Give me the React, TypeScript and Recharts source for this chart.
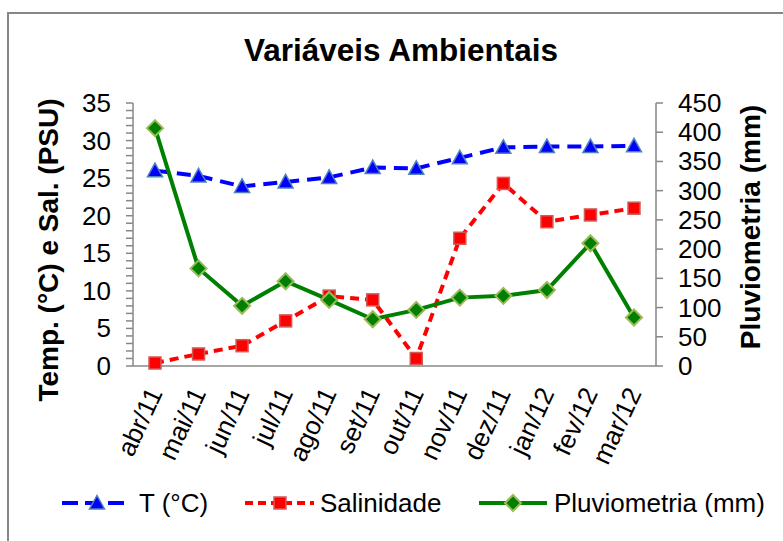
import { ComposedChart, Legend, Line, XAxis, YAxis } from "recharts";

const months = ["abr/11", "mai/11", "jun/11", "jul/11", "ago/11", "set/11", "out/11", "nov/11", "dez/11", "jan/12", "fev/12", "mar/12"];
const temperature = [26.0, 25.3, 23.9, 24.5, 25.1, 26.4, 26.3, 27.7, 29.1, 29.2, 29.2, 29.3];
const salinity = [0.4, 1.6, 2.7, 6.0, 9.3, 8.8, 1.0, 17.0, 24.3, 19.2, 20.1, 21.0];
const rainfall = [407, 167, 103, 145, 113, 80, 96, 117, 120, 130, 210, 83];

const leftTicks = [0, 1, 2, 3, 4, 5, 6, 7, 8, 9, 10, 11, 12, 13, 14, 15, 16, 17, 18, 19, 20, 21, 22, 23, 24, 25, 26, 27, 28, 29, 30, 31, 32, 33, 34, 35];
const rightTicks = [0, 50, 100, 150, 200, 250, 300, 350, 400, 450];

const data = months.map((month, i) => ({ month, temp: temperature[i], sal: salinity[i], rain: rainfall[i] }));

const FONT = '"Liberation Sans", Arial, sans-serif';
const GRID = "#878787";

function Triangle({ cx, cy }: any) {
  if (cx == null || cy == null) return null;
  return <polygon points={`${cx},${cy - 7.5} ${cx + 7.5},${cy + 6} ${cx - 7.5},${cy + 6}`} fill="#0000ff" stroke="#4f81bd" strokeWidth={1.5} />;
}

function Square({ cx, cy }: any) {
  if (cx == null || cy == null) return null;
  return <rect x={cx - 6} y={cy - 6} width={12} height={12} fill="#ff0000" stroke="#d25b58" strokeWidth={1.5} />;
}

function Diamond({ cx, cy }: any) {
  if (cx == null || cy == null) return null;
  return <polygon points={`${cx},${cy - 8} ${cx + 8},${cy} ${cx},${cy + 8} ${cx - 8},${cy}`} fill="#008000" stroke="#9bbb59" strokeWidth={2} />;
}

function LeftTick({ x, y, payload }: any) {
  if (payload.value % 5 !== 0) return null;
  return (
    <text x={x} y={y + 9} textAnchor="end" fontSize={26} fontFamily={FONT} fill="#000">
      {payload.value}
    </text>
  );
}

function RightTick({ x, y, payload }: any) {
  return (
    <text x={x} y={y + 9} textAnchor="start" fontSize={26} fontFamily={FONT} fill="#000">
      {payload.value}
    </text>
  );
}

function MonthTick({ x, y, payload }: any) {
  const ax = x + 8;
  const ay = y + 27;
  return (
    <text x={ax} y={ay} textAnchor="end" transform={`rotate(-65, ${ax}, ${ay})`} fontSize={26} fontFamily={FONT} fill="#000">
      {payload.value}
    </text>
  );
}

function LeftLabel() {
  return (
    <text transform="translate(58,250) rotate(-90)" textAnchor="middle" fontSize={28} fontWeight="bold" fontFamily={FONT} fill="#000">
      Temp. (°C) e Sal. (PSU)
    </text>
  );
}

function RightLabel() {
  return (
    <text transform="translate(760,227) rotate(-90)" textAnchor="middle" fontSize={28} fontWeight="bold" fontFamily={FONT} fill="#000">
      Pluviometria (mm)
    </text>
  );
}

function LegendBox() {
  const cy = 18;
  return (
    <svg width={783} height={40} style={{ display: "block" }}>
      <line x1={62} x2={131} y1={cy} y2={cy} stroke="#0000ff" strokeWidth={4} strokeDasharray="16 7" />
      <Triangle cx={97} cy={cy} />
      <text x={139} y={cy + 9} fontSize={26} fontFamily={FONT}>T (°C)</text>
      <line x1={245} x2={314} y1={cy} y2={cy} stroke="#ff0000" strokeWidth={4} strokeDasharray="8 5" />
      <Square cx={280} cy={cy} />
      <text x={320} y={cy + 9} fontSize={26} fontFamily={FONT}>Salinidade</text>
      <line x1={479} x2={547} y1={cy} y2={cy} stroke="#008000" strokeWidth={4} />
      <Diamond cx={513} cy={cy} />
      <text x={554} y={cy + 9} fontSize={26} fontFamily={FONT}>Pluviometria (mm)</text>
    </svg>
  );
}

export default function App() {
  return (
    <div style={{ position: "absolute", left: 0, top: 0, width: 783, height: 541, overflow: "hidden", background: "#fff" }}>
      <div style={{ position: "absolute", left: 7, top: 12, width: 900, height: 700, border: `2px solid ${GRID}` }} />
      <svg width={783} height={541} style={{ position: "absolute", left: 0, top: 0 }}>
        <text x={401} y={61} textAnchor="middle" fontSize={31.5} fontWeight="bold" fontFamily={FONT} fill="#000">
          Variáveis Ambientais
        </text>
        <LeftLabel />
        <RightLabel />
      </svg>
      <div style={{ position: "absolute", left: 0, top: 0 }}>
        <ComposedChart width={783} height={541} data={data} margin={{ top: 103, right: 0, bottom: 16, left: 0 }}>
          <XAxis
            dataKey="month"
            height={119}
            padding={{ left: 22, right: 22 }}
            tickLine={false}
            tickSize={0}
            tickMargin={0}
            interval={0}
            stroke={GRID}
            strokeWidth={1.5}
            tick={(p: any) => <MonthTick key={p.index} {...p} />}
          />
          <YAxis
            yAxisId="left"
            width={133}
            domain={[0, 35]}
            ticks={leftTicks}
            interval={0}
            tickSize={7}
            tickMargin={15}
            stroke={GRID}
            strokeWidth={1.5}
            tick={(p: any) => <LeftTick key={p.index} {...p} />}
          />
          <YAxis
            yAxisId="right"
            orientation="right"
            width={127}
            domain={[0, 450]}
            ticks={rightTicks}
            interval={0}
            tickSize={7}
            tickMargin={15}
            stroke={GRID}
            strokeWidth={1.5}
            tick={(p: any) => <RightTick key={p.index} {...p} />}
          />
          <Legend verticalAlign="bottom" content={() => <LegendBox />} />
          <Line yAxisId="left" dataKey="temp" name="T (°C)" stroke="#0000ff" strokeWidth={4} strokeDasharray="14 8" isAnimationActive={false} dot={(p: any) => <Triangle key={p.index} {...p} />} />
          <Line yAxisId="left" dataKey="sal" name="Salinidade" stroke="#ff0000" strokeWidth={4} strokeDasharray="9 6" isAnimationActive={false} dot={(p: any) => <Square key={p.index} {...p} />} />
          <Line yAxisId="right" dataKey="rain" name="Pluviometria (mm)" stroke="#008000" strokeWidth={4} isAnimationActive={false} dot={(p: any) => <Diamond key={p.index} {...p} />} />
        </ComposedChart>
      </div>
    </div>
  );
}
